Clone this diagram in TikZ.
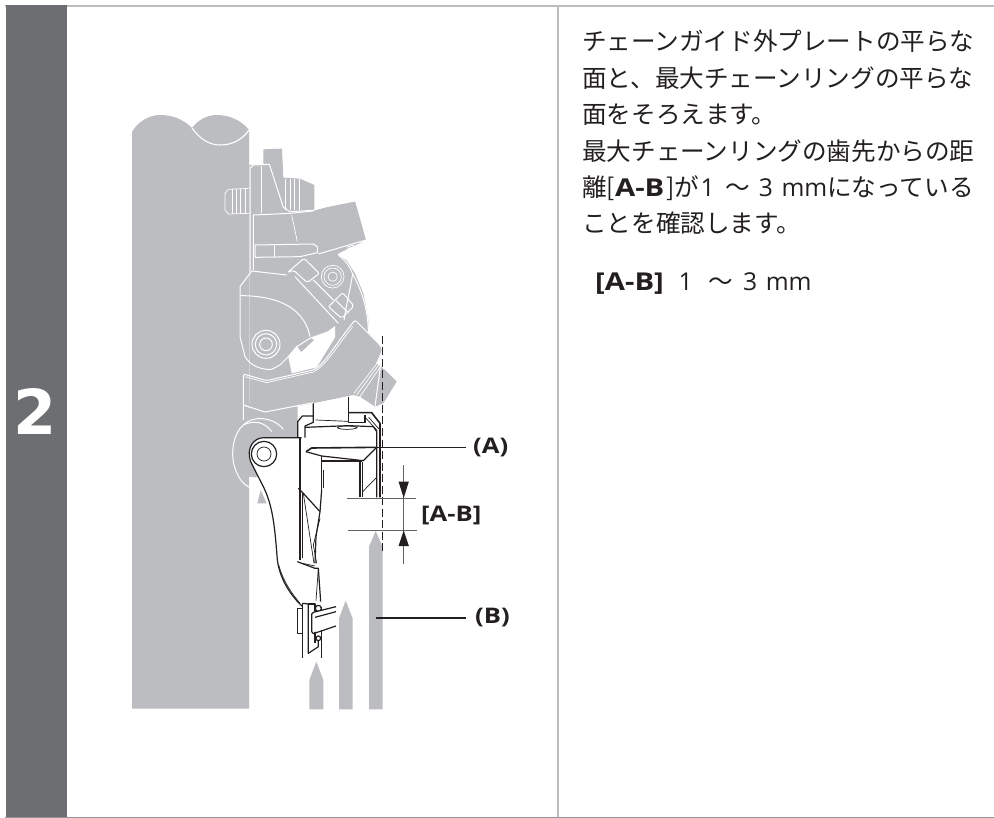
\documentclass[tikz,border=0pt]{standalone}
\usepackage{fontspec}
\setmainfont{Open Sans}
\newfontfamily\cjk{Noto Sans CJK JP}
\newfontfamily\numfont{DejaVu Sans}
\newfontfamily\wideb[FakeStretch=1.19]{Open Sans}
\definecolor{band}{HTML}{6D6E71}
\definecolor{rule}{HTML}{BCBDC0}
\definecolor{partgray}{HTML}{BBBDC0}
\definecolor{ink}{HTML}{231F20}
\newcommand{\lat}{\normalfont\fontsize{24.6}{36.4}\selectfont}
\newcommand{\latb}{\wideb\fontsize{24.6}{36.4}\selectfont\bfseries}
\tikzset{
  wl/.style={draw=white,line width=1pt,line join=round},
  wlt/.style={draw=white,line width=.7pt},
  bl/.style={draw=ink,line width=1.2pt,line join=round},
  blt/.style={draw=ink,line width=.7pt,line join=round},
  blk/.style={draw=ink,line width=1.6pt,line join=round},
  leader/.style={draw=ink,line width=1.1pt},
  extl/.style={draw=ink!70,line width=.8pt},
  callout/.style={font=\wideb\fontsize{21.5}{24}\selectfont\bfseries,text=ink,inner sep=0pt,anchor=west},
  zoomA/.style={shift={(200,130)},x=.33333pt,y=-.33333pt},
  zoomB/.style={shift={(220,390)},x=.33333pt,y=-.33333pt}
}
\begin{document}
\begin{tikzpicture}[x=1pt,y=-1pt]
\useasboundingbox (0,0) rectangle (994,818);
\fill[white] (0,0) rectangle (994,818);
% frame
\fill[rule] (5,5) rectangle (994,7);
\fill[rule] (557,6) rectangle (559,817);
\fill[black!42] (5,816.8) rectangle (994,818);
\fill[band] (5.5,5.5) rectangle (67,817);
\node[font=\numfont\fontsize{62}{62}\selectfont\bfseries,text=white,inner sep=0pt] (stepnum) at (35.5,411) {2};
% column
\fill[partgray] (132,708.5) -- (132,132) .. controls (138,121) and (150,115) .. (160,115) .. controls (172,115) and (183,119) .. (192,128) .. controls (198,120) and (207,115) .. (217,115) .. controls (230,115) and (242,121) .. (249,130) -- (249,708.5) -- cycle;
\draw[draw=white,line width=1.1pt] (192,128) .. controls (200,139) and (209,145) .. (220,145) .. controls (232,145) and (242,140) .. (249,130);
% arrows (chainrings)
\begin{scope}[zoomB]
\fill[partgray] (447,958) -- (447,470) -- (467,423) -- (488,470) -- (488,958) -- cycle;
\fill[partgray] (357,958) -- (357,685) -- (377,632) -- (398,685) -- (398,958) -- cycle;
\fill[partgray] (268,958) -- (268,870) -- (289,815) -- (310,870) -- (310,958) -- cycle;
\end{scope}
% upper mechanism in gray
\begin{scope}[zoomA]
\fill[partgray] (148,105) -- (190,105) -- (190,58) -- (246,56) -- (250,143) -- (300,146) -- (343,165) -- (343,240) -- (465,213) -- (498,330) -- (412,372) -- (440,392) -- (465,430) -- (490,490) -- (505,570) -- (505,612) -- (470,570) -- (540,645) -- (548,660) -- (530,700) -- (555,720) -- (590,755) -- (550,820) -- (525,830) -- (480,800) -- (460,795) -- (340,820) -- (258,835) -- (258,880) -- (148,880) -- cycle;
\fill[partgray] (148,175) -- (85,178) -- (75,190) -- (75,240) -- (85,252) -- (148,250) -- cycle;
% white gap
\fill[white] (265,680) -- (290,650) -- (330,625) -- (360,615) -- (385,605) -- (405,590) -- (405,622) -- (350,712) -- (275,730) -- cycle;
\fill[partgray] (292,650) -- (330,622) -- (342,630) -- (304,666) -- cycle;
% outlines
\draw[wlt] (85,178) -- (75,190) -- (75,240) -- (85,252) -- (148,250);
\draw[wlt] (85,178) -- (148,175);
\foreach \xa in {97,110,122,135} \draw[wlt] (\xa,178) -- (\xa,251);
\foreach \xa in {255,270,283,297} \draw[wlt] (\xa,146) -- (\xa,240);
\draw[wl] (150,425) -- (150,115) -- (160,105) -- (208,103) -- (250,232) -- (270,245) -- (340,241) -- (380,229) -- (465,213);
\draw[wl] (185,108) -- (185,250);
\draw[wl] (160,420) -- (160,255) -- (270,250) -- (340,243);
\draw[wlt] (275,255) -- (292,335);
\draw[wl] (165,382) -- (165,345) -- (340,342) -- (352,350) -- (352,368) -- (300,380) -- (165,382);
\draw[wl] (222,345) -- (222,381);
\draw[wl] (355,372) -- (498,330);
\draw[wlt] (440,352) -- (462,345) (440,358) -- (462,350);
% body
\draw[wl] (260,435) -- (155,423) -- (120,470) -- (120,620) -- (135,680) .. controls (150,705) and (180,720) .. (215,718) -- (240,705) -- (265,680) -- (290,650) -- (330,625) -- (385,605) -- (405,590);
\draw[wl] (122,497) .. controls (210,497) and (310,520) .. (330,620);
\foreach \r in {42,32,19} \draw[wl] (198,643) circle[radius=\r];
\foreach \r in {34,26} \draw[wlt] (398,440) circle[radius=\r];
\draw[wlt] (398,440) circle[radius=14];
% bolts
\draw[wl,rounded corners=2pt] (262,428) -- (312,385) -- (358,430) -- (322,458) -- (280,420) -- cycle;
\draw[wl,rounded corners=2pt] (385,530) -- (428,488) -- (462,528) -- (425,565) -- cycle;
\draw[wl] (408,512) -- (445,548);
\draw[wl] (340,450) -- (400,510);
\draw[wl] (285,440) -- (415,580);
\draw[wl] (415,375) .. controls (440,395) and (450,410) .. (458,432) .. controls (452,470) and (440,520) .. (432,570);
\draw[wl] (458,432) .. controls (485,480) and (505,540) .. (505,610);
% lever
\draw[wl,rounded corners=2pt] (130,870) -- (130,732) -- (200,752) -- (340,720) .. controls (375,700) and (405,645) .. (465,570) -- (540,645) -- (548,660) -- (530,700);
\draw[wlt] (135,740) -- (200,758) -- (340,726) .. controls (380,705) and (410,650) .. (458,590);
\draw[wl] (130,825) -- (195,848) -- (258,832);
\draw[wl] (548,660) -- (525,830);
\draw[wlt] (470,795) -- (545,693) (480,800) -- (545,705) (462,790) -- (535,695);
\end{scope}
\begin{scope}[zoomB]
% pivot disc
\fill[partgray] (87,40) -- (233,50) -- (233,143) -- (87,143) -- cycle;
\fill[partgray] (105,190) circle[radius=72];
\fill[partgray] (112,340) -- (122,300) -- (140,340) -- cycle;
\draw[wl] (190,118) .. controls (160,80) and (100,75) .. (70,105) .. controls (40,130) and (30,190) .. (45,235) .. controls (55,265) and (70,285) .. (95,295);
\draw[wl] (70,105) .. controls (100,90) and (135,95) .. (155,125);
\draw[wl] (70,45) -- (135,66) -- (280,38);
% white interior right of the arm
\fill[white] (240,143) -- (132,143) .. controls (100,143) and (78,175) .. (92,215) -- (130,290) .. controls (160,350) and (165,420) .. (172,510) .. controls (180,570) and (215,620) .. (248,650) -- (305,650) -- (340,400) -- (340,143) -- cycle;
\fill[white] (233,143) -- (233,95) -- (247,78) -- (280,78) -- (280,40) -- (385,20) -- (385,68) -- (455,68) -- (478,100) -- (478,330) -- (340,330) -- (340,143) -- cycle;
% arm
\draw[bl] (245,143) -- (132,143) .. controls (100,143) and (78,175) .. (92,215) -- (130,290) .. controls (160,350) and (165,420) .. (172,510) .. controls (180,570) and (215,620) .. (248,650);
\draw[blt] (176,525) .. controls (190,575) and (215,610) .. (240,640);
\draw[bl] (132,192) circle[radius=38];
\draw[blt] (132,192) circle[radius=21];
% bracket
\draw[bl] (233,143) -- (233,95) -- (247,78) -- (280,78);
\draw[bl] (280,40) -- (280,97) -- (255,108) -- (255,143);
\draw[bl] (385,20) -- (385,97) -- (435,97) -- (435,75);
\draw[blk] (385,68) -- (455,68) -- (480,100) -- (480,322);
\draw[bl] (255,112) -- (385,107) -- (460,110) -- (470,125) -- (470,322);
\draw[blt] (287,90) -- (385,94);
\draw[blt] (438,85) -- (472,122) (446,82) -- (478,118);
\draw[blt] (352,113) .. controls (360,106) and (400,106) .. (412,113) .. controls (400,120) and (360,120) .. (352,113);
% wedge
\draw[bl] (240,143) -- (240,510) (247,310) -- (247,505);
\draw[blk] (258,185) -- (275,174) -- (470,172);
\draw[bl] (258,185) -- (305,198) -- (430,212) -- (470,172);
\draw[bl] (305,213) -- (425,213);
\draw[bl] (305,198) -- (305,300);
\draw[blk] (310,240) -- (310,294);
\draw[bl] (420,216) -- (420,322) (428,216) -- (428,322);
\draw[blt] (428,305) -- (470,262);
% twisted plate
\draw[bl] (235,295) -- (250,310) -- (300,365) -- (288,440) -- (285,520);
\draw[blt] (250,310) -- (282,520) (300,385) -- (280,465) -- (290,520);
\draw[bl] (305,300) -- (300,365);
\draw[bl] (232,515) -- (285,535) -- (295,535) -- (302,635);
\draw[blt] (248,520) -- (285,528) (295,535) -- (288,632);
% clamp
\draw[bl] (248,640) -- (248,805) (233,655) -- (233,730) -- (248,730) (233,655) -- (248,655);
\draw[bl] (265,642) -- (265,790) -- (295,770) -- (295,752);
\draw[bl] (265,642) -- (285,642) -- (285,760);
\draw[bl] (248,640) -- (265,642);
\draw[bl] (305,650) -- (305,805);
\draw[bl] (295,655) circle[radius=9] (295,745) circle[radius=7];
\fill[white] (275,667) -- (348,650) -- (348,708) -- (275,728) -- cycle;
\draw[bl] (348,650) -- (280,667) -- (275,672) -- (275,725) -- (280,731) -- (348,708);
\draw[bl] (348,665) -- (285,682);
\end{scope}
% dashed reference line
\coordinate (dashT) at (382.7,336);
\coordinate (dashB) at (382.7,554);
\draw[ink,line width=1.3pt,dash pattern=on 8pt off 3.5pt] (dashT) -- (dashB);
% labels and connectors
\node[callout] (lblA) at (473,447.5) {(A)};
\node[callout] (lblB) at (475,618) {(B)};
\node[callout] (lblAB) at (421,515) {[A-B]};
\coordinate (ptA) at (376.5,447.5);
\coordinate (ptB) at (375.5,618);
\draw[leader] (ptA) -- ([xshift=-7pt]lblA.west);
\draw[leader] (ptB) -- ([xshift=-9pt]lblB.west);
% extension lines
\coordinate (e1L) at (347,498);
\coordinate (e1R) at (416,498);
\coordinate (e2L) at (348,530);
\coordinate (e2R) at (417,530);
\draw[extl] (e1L) -- (e1R);
\draw[extl] (e2L) -- (e2R);
\coordinate (dT) at (403.7,465);
\coordinate (dB) at (403.7,564);
\draw[extl] (dT) -- (dB);
\fill[ink] (403.7,498) -- (398.5,481.5) -- (408.9,481.5) -- cycle;
\fill[ink] (403.7,530.5) -- (398.5,546) -- (408.9,546) -- cycle;
% text
\node[anchor=north west,inner sep=0pt,align=left,text=ink,font=\cjk\fontsize{24.6}{36.4}\selectfont] (body) at (582,30) {チェーンガイド外プレートの平らな\\面と、最大チェーンリングの平らな\\面をそろえます。\\最大チェーンリングの歯先からの距\\離[{\latb A-B}\hspace{.08em}]が\hspace{.05em}{\lat 1}\hspace{.45em}〜\hspace{.35em}{\lat 3\hspace{.35em}mm}になっている\\ことを確認します。};
\node[anchor=west,inner sep=0pt,text=ink,font=\fontsize{24.6}{30}\selectfont] (spec) at (595,284) {{\latb [A-B]}\hspace{.6em}1\hspace{.65em}{\cjk 〜}\hspace{.4em}3\hspace{.35em}mm};
\end{tikzpicture}
\end{document}
